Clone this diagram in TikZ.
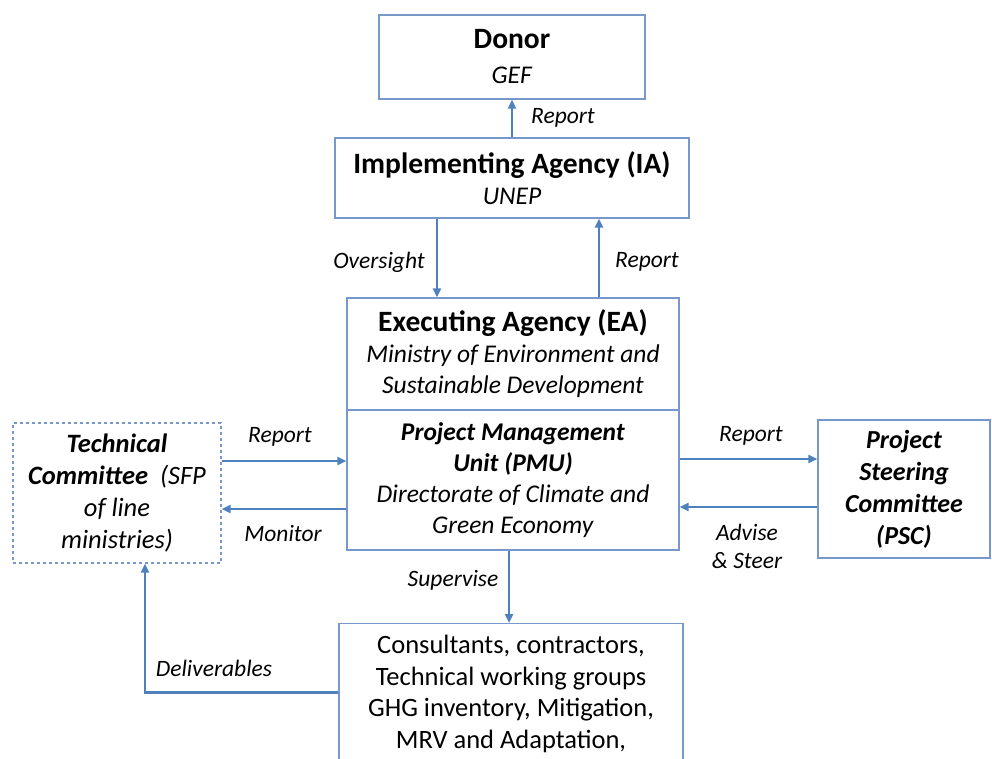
\documentclass[tikz,border=0pt]{standalone}
\usepackage{fontspec}
\setmainfont{Carlito}
\usetikzlibrary{positioning,calc,arrows.meta}
\definecolor{boxblue}{RGB}{120,152,204}
\definecolor{arrblue}{RGB}{79,129,189}
\tikzset{
  box/.style={draw=boxblue,line width=1.2pt,align=center,inner sep=0pt,
    font=\fontsize{25.5}{31}\selectfont},
  arr/.style={draw=arrblue,line width=2.8pt,-{Triangle[length=9pt,width=8pt]}},
  lbl/.style={font=\fontsize{23.5}{28}\selectfont\itshape,align=center,inner sep=0pt}
}
\newcommand{\btitle}[1]{{\fontsize{29.5}{33}\selectfont\bfseries #1}}
\begin{document}
\begin{tikzpicture}[x=1pt,y=-1pt]
  \clip (0,0) rectangle (992,759);
  \useasboundingbox (0,0) rectangle (992,759);
  % boxes
  \node[box,minimum width=266pt,minimum height=84pt,font=\fontsize{25.5}{35}\selectfont] (donor) at (512,57)
    {\btitle{Donor}\\\textit{GEF}};
  \node[box,minimum width=354pt,minimum height=80pt] (ia) at (512,178)
    {\btitle{Implementing Agency (IA)}\\\textit{UNEP}};
  \node[box,minimum width=332pt,minimum height=112pt] (ea) at (513,354)
    {\btitle{Executing Agency (EA)}\\\textit{Ministry of Environment and}\\\textit{Sustainable Development}};
  \node[box,minimum width=332pt,minimum height=140pt] (pmu) at (513,480)
    {\textbf{\textit{Project Management}}\\\textbf{\textit{Unit (PMU)}}\\\textit{Directorate of Climate and}\\\textit{Green Economy}};
  \node[box,dashed,minimum width=208pt,minimum height=140pt,font=\fontsize{26.5}{32}\selectfont\itshape] (tc) at (117,493)
    {\textbf{Technical}\\\textbf{Committee}\ \ (SFP\\of line\\ministries)};
  \node[box,minimum width=172pt,minimum height=138pt,font=\fontsize{26}{32}\selectfont\itshape\bfseries] (psc) at (904,489)
    {Project\\Steering\\Committee\\(PSC)};
  \node[box,minimum width=344pt,minimum height=180pt,anchor=north] (cons) at (511,623) {};
  \node[font=\fontsize{26.5}{31.5}\selectfont,align=center,anchor=north] (constxt) at (cons.north) [yshift=-9pt]
    {Consultants, contractors,\\Technical working groups\\GHG inventory, Mitigation,\\MRV and Adaptation,};
  % connectors
  \draw[arr] (ia.north) -- (donor.south);
  \draw[arr] ([xshift=-75pt]ia.south) -- ([xshift=-75pt]ia.south |- ea.north);
  \draw[arr] ([xshift=86pt]ea.north) -- ([xshift=86pt]ea.north |- ia.south);
  \draw[arr] ([yshift=32pt]tc.east) -- ([yshift=32pt]tc.east -| pmu.west);
  \draw[arr] ([yshift=-16pt]tc.east -| pmu.west) -- ([yshift=-16pt]tc.east);
  \draw[arr] ([yshift=30pt]psc.west -| pmu.east) -- ([yshift=30pt]psc.west);
  \draw[arr] ([yshift=-18pt]psc.west) -- ([yshift=-18pt]psc.west -| pmu.east);
  \draw[arr] ([xshift=-4pt]pmu.south) -- ([xshift=-4pt]pmu.south |- cons.north);
  \draw[arr] ([yshift=21pt]cons.west) -| ([xshift=28pt]tc.south);
  % labels
  \node[lbl] (lrepd) at (563,118) {Report};
  \node[lbl] (lover) at (379,262) {Oversight};
  \node[lbl] (lrepi) at (647,262) {Report};
  \node[lbl] (lrept) at (280,437) {Report};
  \node[lbl] (lmon) at (283,533) {Monitor};
  \node[lbl] (lrepp) at (751,436) {Report};
  \node[lbl] (ladv) at (747,546) {Advise\\\& Steer};
  \node[lbl] (lsup) at (453,580) {Supervise};
  \node[lbl] (ldel) at (214,668) {Deliverables};
\end{tikzpicture}
\end{document}
